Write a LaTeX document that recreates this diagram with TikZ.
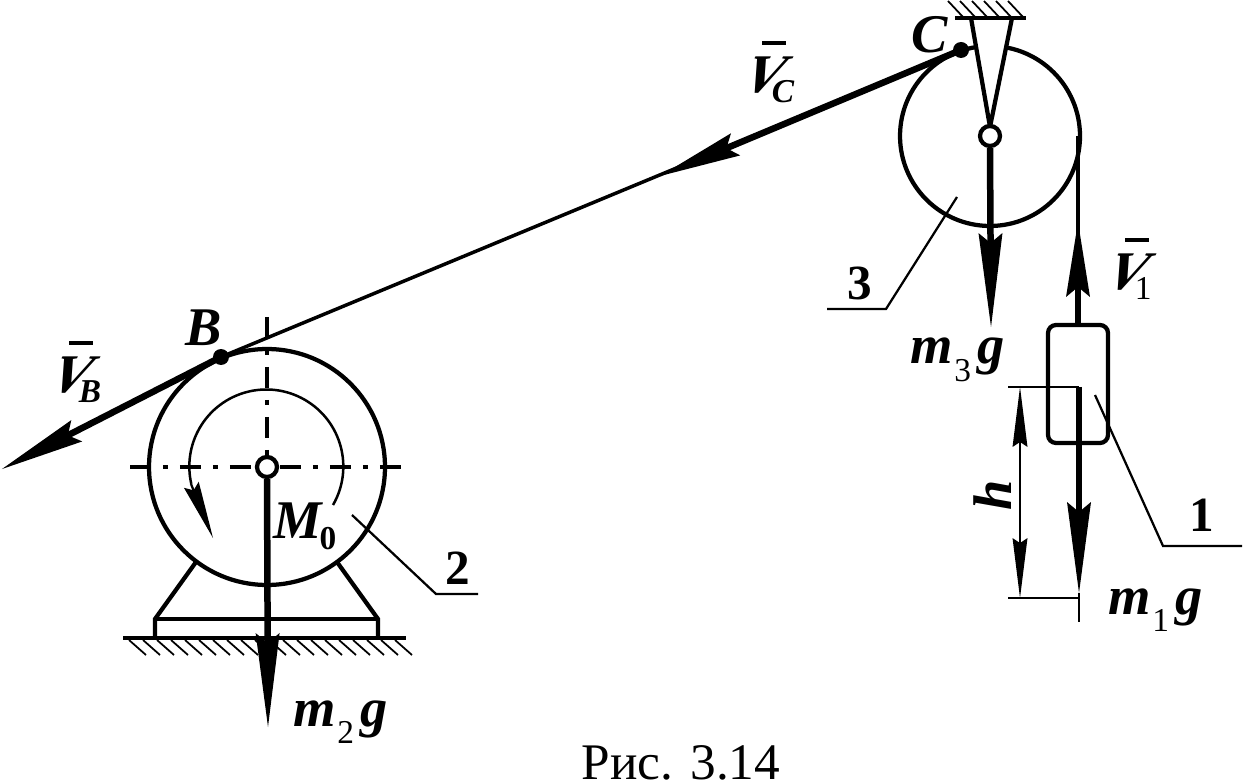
\documentclass[tikz,border=0pt]{standalone}
\usepackage{fontspec}
\setmainfont{Liberation Serif}
\newfontface\skewV[FakeSlant=0.5]{Liberation Serif Bold}
\usetikzlibrary{arrows.meta}
\tikzset{
        wire/.style={line width=0.085cm}, % outlines of the bodies
        thread/.style={line width=0.07cm},
        thin line/.style={line width=0.045cm},
        force/.style={line width=0.13cm, -{Stealth[length=#1, width=0.48cm, inset=0.2cm, line width=0pt]}},
        hatch/.style={line width=0.035cm},
        axis/.style={wire, dash pattern=on 0.42cm off 0.24cm on 0.1cm off 0.24cm},
        letter/.style={font=\fontsize{31}{31}\selectfont\bfseries\itshape, inner sep=0pt},
        digit/.style={font=\fontsize{28}{28}\selectfont\bfseries, inner sep=0pt},
        pin/.style={circle, draw, fill=white, wire, minimum size=0.4cm, inner sep=0pt},
        dot/.style={circle, fill=black, minimum size=0.32cm, inner sep=0pt},
}
\newcommand{\subs}[2]{\raisebox{#1}{\fontsize{19}{19}\selectfont #2}}
\newcommand{\barV}[1]{\rlap{\kern0.46em\rule[0.88em]{0.44em}{0.07em}}{\skewV V}\kern-0.09em\subs{-0.18em}{#1}}
\newcommand{\weight}[1]{m\kern0.03em\subs{-0.32em}{\normalfont #1}\kern0.12em g}
\begin{document}
\begin{tikzpicture}[x=0.02cm, y=-0.02cm]
    \useasboundingbox (0,0) rectangle (1243,783);
    % points
    \coordinate (B) at (221,357);
    \coordinate (C) at (961,50);
    \coordinate (tipB) at (2,469);
    \coordinate (tipC) at (660,176);
    % pulley 2 and stand
    \node [circle, draw, wire, minimum size=4.72cm, inner sep=0pt] (wheel2) at (267,467) {};
    \draw [wire] (196,562) -- (155,619) -- (155,638);
    \draw [wire] (337,562) -- (378,619) -- (378,638);
    \draw [wire] (155,619) -- (378,619);
    \draw [wire] (123,638) -- (406,638);
    \foreach \x in {0,...,19}
        \draw [hatch] (129+14*\x,640) -- (146+14*\x,655);
    % axes of pulley 2
    \draw [axis] (267,317) -- (267,460);
    \draw [axis] (130,467) -- (401,467);
    % moment
    \draw [line width=0.05cm] (333,505) arc[start angle=30, end angle=-193, radius=77];
    \coordinate (baseM) at (191,484);
    \coordinate (tipM) at (213,538);
    \draw [thin line, -{Stealth[length=1.15cm, width=0.32cm, inset=0.12cm, line width=0pt]}] (baseM) -- (tipM);
    % pulley 3 and bracket
    \node [circle, draw, wire, minimum size=3.6cm, inner sep=0pt] (wheel3) at (990,136) {};
    \draw [wire, fill=white] (971,18) -- (990,127) -- (1012,18);
    \draw [wire] (955,18) -- (1026,18);
    \foreach \x in {0,...,5}
        \draw [hatch] (963+12*\x,17) -- (948+12*\x,1);
    % thread
    \draw [thread] (C) -- (B);
    \draw [force=1.64cm] (C) -- (tipC);
    \draw [force=1.68cm] (B) -- (tipB);
    \node [dot] (dotB) at (B) {};
    \node [dot] (dotC) at (C) {};
    % weight 1
    \node [draw, wire, rounded corners=0.16cm, minimum width=1.2cm, minimum height=2.36cm, inner sep=0pt] (load) at (1078,384) {};
    \coordinate (topV) at (1078,222);
    \draw [thread] (1078,136) -- (load.north);
    \draw [force=1.5cm] (load.north) -- (topV);
    % forces
    \node [pin] (pin2) at (wheel2) {};
    \node [pin] (pin3) at (wheel3) {};
    \coordinate (tip2) at (268,727);
    \coordinate (tip3) at (991,327);
    \coordinate (tip1) at (1079,593);
    \draw [force=1.88cm] (pin2.south) -- (tip2);
    \draw [force=1.88cm] (pin3.south) -- (tip3);
    \coordinate (start1) at (1079,387);
    \coordinate (end1) at (1079,598);
    \draw [force=1.82cm] (start1) -- (tip1);
    \draw [thin line] (tip1) -- (1079,622);
    % dimension h
    \coordinate (dimA) at (1020,387);
    \coordinate (dimB) at (1020,598);
    \draw [thin line] (1008,387) -- (start1);
    \draw [thin line] (1008,598) -- (end1);
    \draw [thin line, {Stealth[length=1.2cm, width=0.3cm, inset=0.1cm, line width=0pt]}-{Stealth[length=1.2cm, width=0.3cm, inset=0.1cm, line width=0pt]}] (dimA) -- (dimB);
    % leaders
    \draw [thin line] (352,515) -- (436,594) -- (478,594);
    \draw [thin line] (957,197) -- (886,309) -- (827,309);
    \draw [thin line] (1095,395) -- (1163,546) -- (1242,546);
    % labels
    \node [letter] (labB) at (204,328) {B};
    \node [letter] (labC) at (930,35) {C};
    \node [letter, anchor=base west] (labVB) at (44,393) {\barV{B}};
    \node [letter, anchor=base west] (labVC) at (737,93) {\barV{C}};
    \node [letter, anchor=base west] (labV1) at (1100,290) {\barV{\normalfont 1}};
    \node [letter] (labM) at (305,526) {M\kern-0.05em\subs{-0.2em}{\normalfont\bfseries 0}};
    \node [letter, anchor=base west] (lab2g) at (293,726) {\weight{2}};
    \node [letter, anchor=base west] (lab3g) at (910,364) {\weight{3}};
    \node [letter, anchor=base west] (lab1g) at (1108,614) {\weight{1}};
    \node [letter, rotate=90] (labh) at (993,495) {h};
    \node [digit] (lab1) at (1202,515) {1};
    \node [digit] (lab2) at (458,568) {2};
    \node [digit] (lab3) at (860,283) {3};
    \node [font=\fontsize{29.2}{29.2}\selectfont, inner sep=0pt] (caption) at (681,763) {Рис. 3.14};
\end{tikzpicture}
\end{document}
